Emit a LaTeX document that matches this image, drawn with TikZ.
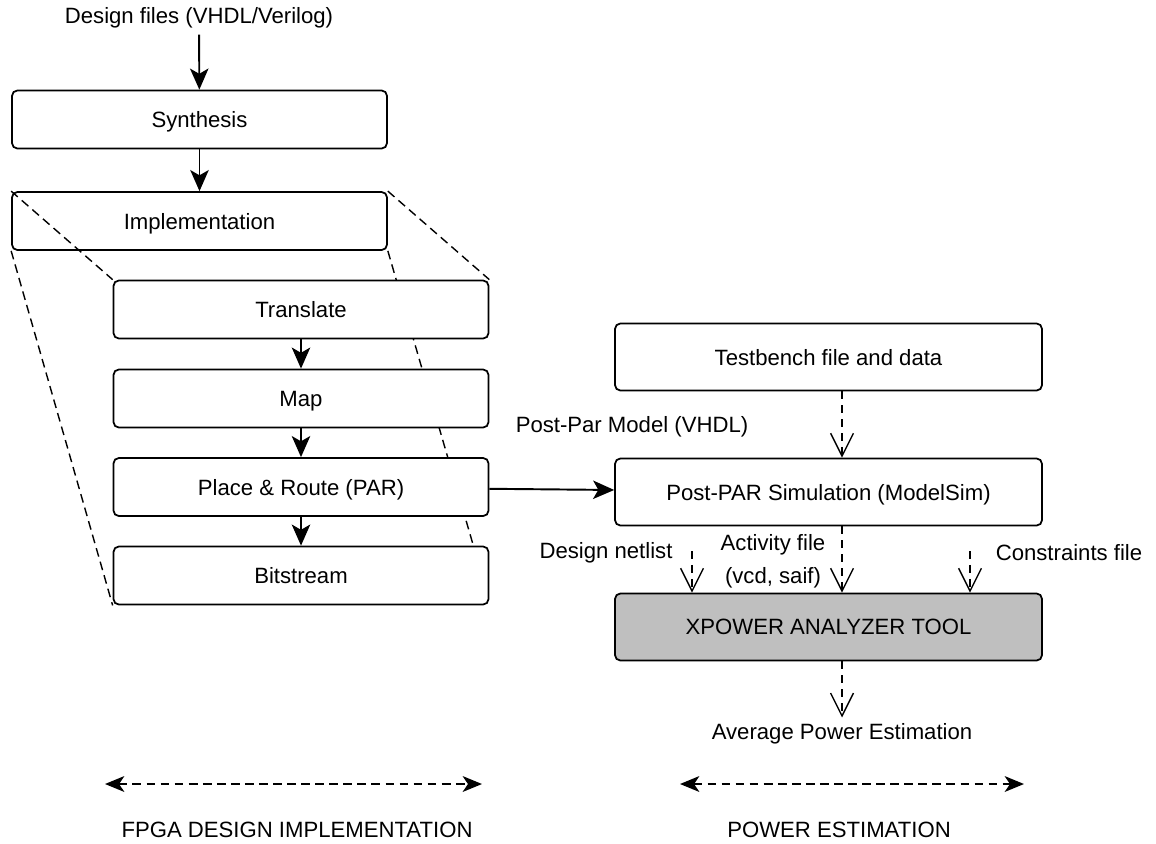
\documentclass[tikz,border=0pt]{standalone}
\usepackage{fontspec}
\setmainfont{Liberation Sans}
\usetikzlibrary{arrows.meta, positioning, backgrounds}

\begin{document}
\begin{tikzpicture}[
    x=0.02cm, y=-0.02cm,
    txt/.style={font=\fontsize{12.6}{14}\selectfont},
    box/.style={draw, line width=1pt, rounded corners=3pt, fill=white,
                minimum width=7.5cm, minimum height=1.16cm, txt, text depth=0pt},
    widebox/.style={box, minimum width=8.54cm, minimum height=1.34cm},
    flow/.style={-{Stealth[length=12pt, width=10.5pt, inset=3pt]}, line width=1.1pt},
    feed/.style={dash pattern=on 4.5pt off 3.4pt, line width=0.8pt,
                 -{Straight Barb[length=13pt, width=13pt]}},
    span/.style={dash pattern=on 5pt off 3pt, line width=1pt,
                 {Stealth[length=11pt, width=9pt, inset=3pt]}-{Stealth[length=11pt, width=9pt, inset=3pt]}},
    guide/.style={dash pattern=on 5pt off 3pt, line width=0.8pt}
  ]
  \useasboundingbox (0,0) rectangle (1156,843);

  % FPGA flow
  \node[txt] (src) at (199,18) {Design files (VHDL/Verilog)};
  \node[box] (syn) at (199.5,119.5) {Synthesis};
  \node[box, fill=none] (impl) at (199.5,221) {Implementation};
  \foreach \name/\label/\y in {tr/Translate/309.5, map/Map/398.5,
                               par/Place \& Route (PAR)/487, bit/Bitstream/575.5} {
    \node[box] (\name) at (301,\y) {\label};
  }
  \draw[flow] (src) -- (syn);
  \draw[flow] (syn) -- (impl);
  \draw[flow] (tr) -- (map);
  \draw[flow] (map) -- (par);
  \draw[flow] (par) -- (bit);

  % Implementation expands into the four steps
  \begin{scope}[on background layer]
    \draw[guide] (impl.north west) -- (tr.north west);
    \draw[guide] (impl.north east) -- (tr.north east);
    \draw[guide] (impl.south west) -- (bit.south west);
    \draw[guide] (impl.south east) -- ([xshift=-0.32cm]bit.north east);
  \end{scope}

  % Power estimation
  \node[widebox] (tb) at (828.5,357) {Testbench file and data};
  \node[txt] (model) at (632,427) {Post-Par Model (VHDL)};
  \node[widebox] (sim) at (828.5,492) {Post-PAR Simulation (ModelSim)};
  \node[widebox, fill=black!25] (xp) at (828.5,627) {XPOWER ANALYZER TOOL};
  \node[txt] (net) at (606,553) {Design netlist};
  \node[txt, align=center, font=\fontsize{12.6}{18.7}\selectfont] (act) at (773,561)
    {Activity file\\(vcd, saif)};
  \node[txt] (con) at (1069,553) {Constraints file};
  \node[txt] (avg) at (842,734) {Average Power Estimation};

  \coordinate (netin) at (692,551);
  \coordinate (conin) at (970,551);
  \draw[flow] (par) -- (sim);
  \draw[feed] (tb.south -| avg) -- (sim.north -| avg);
  \draw[feed] (sim.south -| avg) -- (xp.north -| avg);
  \draw[feed] (netin) -- (netin |- xp.north);
  \draw[feed] (conin) -- (conin |- xp.north);
  \draw[feed] (xp.south -| avg) -- (avg.north);

  % Phases
  \coordinate (fl) at (105,784);
  \coordinate (fr) at (482,784);
  \coordinate (pl) at (680,784);
  \coordinate (pr) at (1024,784);
  \draw[span] (fl) -- (fr);
  \draw[span] (pl) -- (pr);
  \node[txt] (fpga) at (297,830) {FPGA DESIGN IMPLEMENTATION};
  \node[txt] (pw) at (839,830) {POWER ESTIMATION};
\end{tikzpicture}
\end{document}
